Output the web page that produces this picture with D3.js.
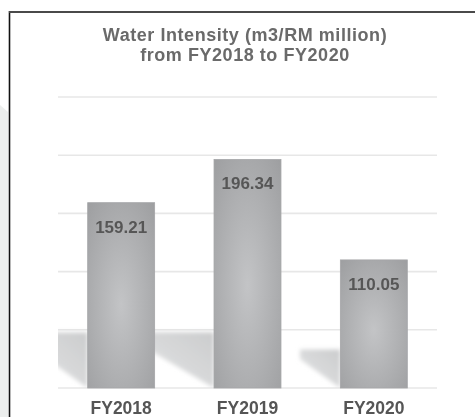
<!DOCTYPE html>
<html>
<head>
<meta charset="utf-8">
<script src="https://cdn.jsdelivr.net/npm/d3@7"></script>
<style>
  html, body { margin: 0; padding: 0; background: #fff; }
  svg { display: block; }
  text { font-family: "Liberation Sans", Arial, sans-serif; font-weight: bold; }
</style>
</head>
<body>
<svg id="chart" width="475" height="417"></svg>
<script>
// Water intensity per financial year (m3 / RM million)
const years = ["FY2018", "FY2019", "FY2020"];
const intensity = [159.21, 196.34, 110.05];
const gridTicks = [0, 50, 100, 150, 200, 250];
const titleLines = ["Water Intensity (m3/RM million)", "from FY2018 to FY2020"];

const W = 475, H = 417;
const margin = { left: 58, right: 38, top: 97, bottom: 29 };
const svg = d3.select("#chart");

const x = d3.scaleBand()
  .domain(years)
  .range([margin.left, W - margin.right])
  .paddingInner(0.47)
  .paddingOuter(0.235);

const y = d3.scaleLinear()
  .domain([0, 250])
  .range([H - margin.bottom, margin.top]);

const defs = svg.append("defs");

// soft radial sheen on the bars
const bg = defs.append("radialGradient")
  .attr("id", "barFill")
  .attr("cx", "50%").attr("cy", "55%").attr("r", "75%");
bg.append("stop").attr("offset", "0%").attr("stop-color", "#c3c4c6");
bg.append("stop").attr("offset", "100%").attr("stop-color", "#9d9ea0");

// cast shadow fading towards the lower left
const sg = defs.append("linearGradient")
  .attr("id", "shadowFill")
  .attr("x1", "100%").attr("y1", "0%").attr("x2", "0%").attr("y2", "100%");
sg.append("stop").attr("offset", "0%").attr("stop-color", "#cbcccd");
sg.append("stop").attr("offset", "55%").attr("stop-color", "#d9dadb");
sg.append("stop").attr("offset", "100%").attr("stop-color", "#ffffff");

const blur = defs.append("filter").attr("id", "soft")
  .attr("x", "-20%").attr("y", "-20%").attr("width", "140%").attr("height", "140%");
blur.append("feGaussianBlur").attr("stdDeviation", 2);

const txtBlur = defs.append("filter").attr("id", "txtSoft");
txtBlur.append("feGaussianBlur").attr("stdDeviation", 0.35);

defs.append("clipPath").attr("id", "plotClip")
  .append("rect")
  .attr("x", margin.left).attr("y", margin.top - 5)
  .attr("width", W - margin.left - margin.right)
  .attr("height", H - margin.top - margin.bottom + 5);

// page decoration: grey strip on the left and the frame
svg.append("path")
  .attr("d", "M0,105 L8,112 L8,417 L0,417 Z")
  .attr("fill", "#eceeed");
svg.append("line")
  .attr("x1", 9.5).attr("x2", 9.5).attr("y1", 11).attr("y2", H)
  .attr("stroke", "#111").attr("stroke-width", 1.6);
svg.append("line")
  .attr("x1", 9).attr("x2", W).attr("y1", 12).attr("y2", 12)
  .attr("stroke", "#4a4a4a").attr("stroke-width", 2);

// title
svg.append("g")
  .selectAll("text")
  .data(titleLines)
  .join("text")
  .attr("x", 245)
  .attr("y", (d, i) => 41 + i * 19.5)
  .attr("text-anchor", "middle")
  .attr("font-size", 18)
  .attr("letter-spacing", 0.55)
  .attr("fill", "#6a6a6a")
  .attr("filter", "url(#txtSoft)")
  .text(d => d);

// horizontal grid lines
svg.append("g")
  .selectAll("line")
  .data(gridTicks)
  .join("line")
  .attr("x1", margin.left).attr("x2", W - margin.right)
  .attr("y1", d => y(d)).attr("y2", d => y(d))
  .attr("stroke", "#e7e7e7").attr("stroke-width", 1.6);

// shadows cast by each bar
const shadowLen = d3.scaleLinear().domain([0, 196.34]).range([0, 72]);
const shadowTop = v => Math.min(48, v * 0.3);
svg.append("g")
  .attr("clip-path", "url(#plotClip)")
  .append("g")
  .attr("filter", "url(#soft)")
  .selectAll("path")
  .data(years.map((c, i) => ({ c, v: intensity[i] })))
  .join("path")
  .attr("fill", "url(#shadowFill)")
  .attr("d", d => {
    const x0 = x(d.c);
    const L = shadowLen(d.v);
    const yt = y(shadowTop(d.v));
    const yb = y(0);
    return `M${x0},${yb} L${x0},${yt} L${x0 - L},${yt} L${x0 - L},${yt + (yb - yt) * 0.25} Z`;
  });

// bars
svg.append("g")
  .selectAll("rect")
  .data(years.map((c, i) => ({ c, v: intensity[i] })))
  .join("rect")
  .attr("x", d => x(d.c))
  .attr("y", d => y(d.v))
  .attr("width", x.bandwidth())
  .attr("height", d => y(0) - y(d.v))
  .attr("fill", "url(#barFill)")
  .attr("stroke", "#a5a6a8")
  .attr("stroke-width", 0.8);

// value labels inside the bar tops
svg.append("g")
  .selectAll("text")
  .data(years.map((c, i) => ({ c, v: intensity[i] })))
  .join("text")
  .attr("x", d => x(d.c) + x.bandwidth() / 2)
  .attr("y", d => y(d.v) + 30)
  .attr("text-anchor", "middle")
  .attr("font-size", 17)
  .attr("fill", "#575757")
  .attr("filter", "url(#txtSoft)")
  .text(d => d3.format(".2f")(d.v));

// category axis labels
const xAxis = d3.axisBottom(x).tickSize(0).tickPadding(0);
const gx = svg.append("g")
  .attr("transform", `translate(0,${y(0)})`)
  .call(xAxis);
gx.select(".domain").remove();
gx.selectAll("text")
  .attr("dy", null)
  .attr("y", 26)
  .attr("font-size", 17.5)
  .attr("font-family", "'Liberation Sans', Arial, sans-serif")
  .attr("font-weight", "bold")
  .attr("fill", "#555")
  .attr("filter", "url(#txtSoft)");
</script>
</body>
</html>
